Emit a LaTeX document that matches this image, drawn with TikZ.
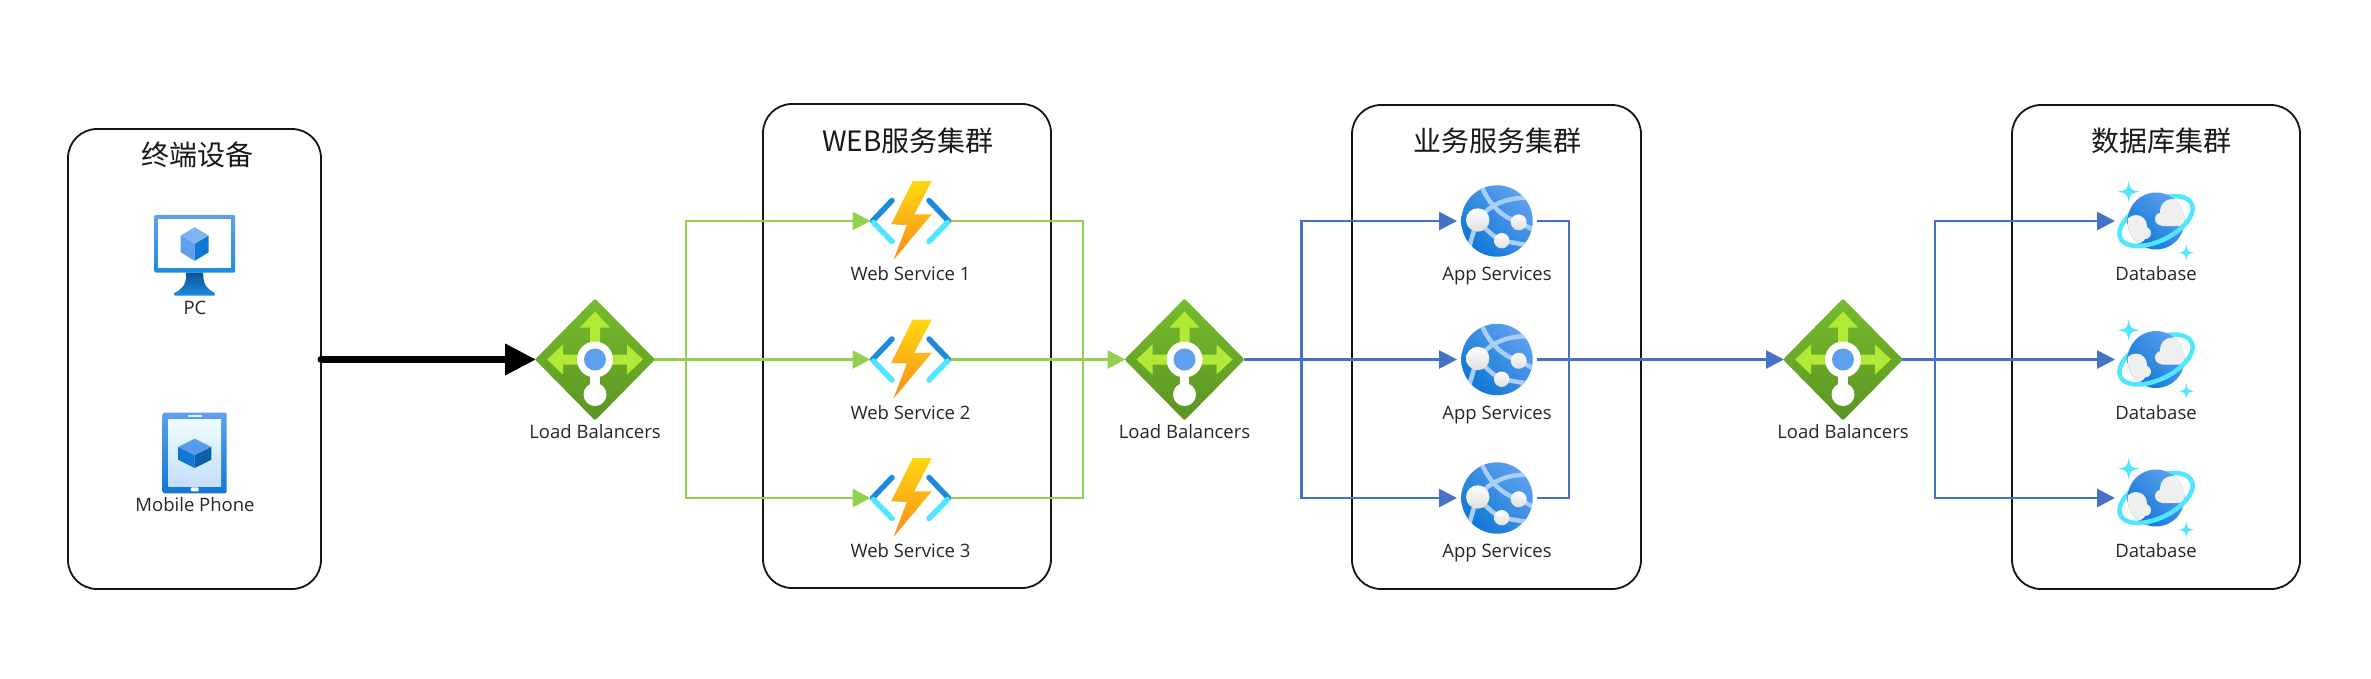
\documentclass[tikz,border=0pt]{standalone}
\usepackage{fontspec}
\setmainfont{Open Sans}
\newfontfamily\cjk{Noto Sans CJK SC}
\usetikzlibrary{positioning,arrows.meta}
\definecolor{flowgreen}{HTML}{92D050}
\definecolor{flowblue}{HTML}{4472C4}
\definecolor{lbtop}{HTML}{76BC2D}
\definecolor{lbbottom}{HTML}{5B9422}
\definecolor{lbarrow}{HTML}{B0EA37}
\definecolor{azlight}{HTML}{5EA0EF}
\definecolor{azdark}{HTML}{0F78D4}
\definecolor{azmid}{HTML}{1B8BDF}
\definecolor{azcyan}{HTML}{50E6FF}
\definecolor{azband}{HTML}{A9CFF6}
\definecolor{azcloud}{HTML}{EFEFEF}
\definecolor{boltup}{HTML}{FFD70F}
\definecolor{boltdown}{HTML}{F78D1E}
\tikzset{
  x=1pt,y=-1pt,
  groupbox/.style={draw=black!92,line width=1.8pt,rounded corners=29pt,inner sep=0pt,outer sep=0pt},
  grouptitle/.style={font=\cjk\fontsize{28}{32}\selectfont,text=black!90,inner sep=0pt},
  iconnode/.style={minimum width=80pt,minimum height=80pt,inner sep=0pt,outer sep=0pt},
  lbnode/.style={minimum width=118pt,minimum height=120pt,inner sep=0pt,outer sep=0pt},
  iconlabel/.style={font=\fontsize{18.5}{20}\selectfont,text=black!85,inner sep=0pt,text height=13pt,text depth=4pt},
  greenline/.style={draw=flowgreen,line width=2.8pt},
  greenarrow/.style={greenline,-{Triangle[length=18pt,width=18pt]}},
  blueline/.style={draw=flowblue,line width=2.8pt},
  bluearrow/.style={blueline,-{Triangle[length=18pt,width=18pt]}},
  blackarrow/.style={draw=black,line width=7pt,line cap=round,-{Triangle[length=31pt,width=30pt]}},
  lbicon/.pic={
    \shade[top color=lbtop,bottom color=lbbottom,rounded corners=2pt] (0,-61) -- (60,0) -- (0,61) -- (-60,0) -- cycle;
    \fill[lbarrow] (0,-48) -- (15,-32) -- (5,-32) -- (5,-5) -- (32,-5) -- (32,-15) -- (48,0) -- (32,15) -- (32,5) -- (-32,5) -- (-32,15) -- (-48,0) -- (-32,-15) -- (-32,-5) -- (-5,-5) -- (-5,-32) -- (-15,-32) -- cycle;
    \fill[white] (-4.8,10) rectangle (4.8,30);
    \fill[white] (0,0) circle (18pt);
    \fill[white] (0,35) circle (11.5pt);
    \fill[azlight] (0,0) circle (11pt);
  },
  webicon/.pic={
    \draw[azmid,line width=5.5pt,line cap=round] (-38,0) -- (-18.5,-20.5);
    \draw[azcyan,line width=5.5pt,line cap=round] (-37,1.5) -- (-18.5,20.5);
    \draw[azmid,line width=5.5pt,line cap=round] (38,0) -- (18.5,-20.5);
    \draw[azcyan,line width=5.5pt,line cap=round] (37,1.5) -- (18.5,20.5);
    \shade[top color=boltup,bottom color=boltdown] (2.3,-40) -- (21.3,-40) -- (3.7,-6.7) -- (21.3,-6.7) -- (-17,39) -- (-3.7,4) -- (-19.3,3.3) -- cycle;
  },
  appicon/.pic={
    \begin{scope}
      \clip (0,0) circle (35.7pt);
      \shade[left color=azlight,right color=azdark,shading angle=-45] (-36,-36) rectangle (36,36);
      \draw[azband,line width=4.5pt] (-16,-36) .. controls (-8,-16) and (5,-4) .. (21.7,1.3) -- (37,9);
      \draw[azband,line width=4.5pt] (-19,-1) .. controls (-8,-16) and (10,-25) .. (37,-23);
      \draw[azband,line width=4.5pt] (-22,6) -- (-29,30);
      \draw[azband,line width=4.5pt] (-19,-1) .. controls (-10,10) and (-3,16) .. (4.7,19.7) -- (36,25);
    \end{scope}
    \shade[top color=white,bottom color=azcloud!85!gray] (-19.3,-1) circle (11.7pt);
    \shade[top color=white,bottom color=azcloud!85!gray] (21.7,1.3) circle (8pt);
    \shade[top color=white,bottom color=azcloud!85!gray] (4.7,19.7) circle (7.7pt);
  },
  sparkle/.pic={
    \fill[azcyan] (0,-10) .. controls (1.5,-1.5) .. (10,0) .. controls (1.5,1.5) .. (0,10) .. controls (-1.5,1.5) .. (-10,0) .. controls (-1.5,-1.5) .. cycle;
  },
  dbicon/.pic={
    \draw[azcyan,line width=4.5pt] plot[domain=180:360,samples=40] ({39.5*cos(\x)*cos(26)+20*sin(\x)*sin(26)},{-39.5*cos(\x)*sin(26)+20*sin(\x)*cos(26)});
    \begin{scope}
      \clip (0,0) circle (28.5pt);
      \shade[left color=azlight,right color=azdark,shading angle=-45] (-29,-29) rectangle (29,29);
      \fill[azcloud] (16,-10) circle (12pt) (5.5,-2) circle (6.5pt) (16,-10) rectangle (30,5) (5.5,-2) rectangle (30,5);
      \fill[azcloud] (-20,5) circle (11pt) (-11,12) circle (6pt) (-20,12) circle (11pt);
    \end{scope}
    \draw[azcyan,line width=4.5pt] plot[domain=0:180,samples=40] ({39.5*cos(\x)*cos(26)+20*sin(\x)*sin(26)},{-39.5*cos(\x)*sin(26)+20*sin(\x)*cos(26)});
    \pic[scale=1.1] at (-27.3,-29.3) {sparkle};
    \pic[scale=.8] at (30.3,31.7) {sparkle};
  },
  pcicon/.pic={
    \shade[top color=azlight,bottom color=azmid,rounded corners=2pt] (-40.5,-29) rectangle (40.5,28.7);
    \fill[white] (-36.7,-25) rectangle (36.7,24);
    \shade[top color=azdark!70!black,bottom color=azmid] (-8.5,28.7) .. controls (-8,42) and (-14,46) .. (-20,49) -- (-20,51.7) -- (20,51.7) -- (20,49) .. controls (14,46) and (8,42) .. (8.5,28.7) -- cycle;
    \fill[azlight!80!white] (0,-16.7) -- (14,-8.3) -- (0,0) -- (-14,-8.3) -- cycle;
    \fill[azlight] (-14,-8.3) -- (0,0) -- (0,17) -- (-14,8.3) -- cycle;
    \fill[azdark] (14,-8.3) -- (0,0) -- (0,17) -- (14,8.3) -- cycle;
  },
  mobileicon/.pic={
    \shade[top color=azlight,bottom color=azdark,rounded corners=2pt] (-32,-40.3) rectangle (32,40.3);
    \shade[top color=azcyan!10!white,bottom color=azlight!35!white] (-26.3,-34) rectangle (26.3,33);
    \fill[white!85!azlight] (-7,-37.7) rectangle (7,-36);
    \fill[white,rounded corners=1pt] (-4,34.3) rectangle (4,38.3);
    \fill[azlight!90!azdark] (0,-14.3) -- (16.7,-6) -- (0,2.3) -- (-16.7,-6) -- cycle;
    \fill[azdark] (-16.7,-6) -- (0,2.3) -- (0,15) -- (-16.7,6.7) -- cycle;
    \fill[azdark!80!black] (16.7,-6) -- (0,2.3) -- (0,15) -- (16.7,6.7) -- cycle;
  }
}
\begin{document}
\begin{tikzpicture}

\useasboundingbox (0,0) rectangle (2371,678);

\node[groupbox,minimum width=253pt,minimum height=460pt] (endbox) at (194.5,359) {};
\node[groupbox,minimum width=288pt,minimum height=484pt] (webbox) at (907,346) {};
\node[groupbox,minimum width=289pt,minimum height=484pt] (appbox) at (1496.5,347) {};
\node[groupbox,minimum width=288pt,minimum height=484pt] (dbbox) at (2156,347) {};

\node[grouptitle] (endtitle) at (197,154.5) {终端设备};
\node[grouptitle] (webtitle) at (908,141) {WEB服务集群};
\node[grouptitle] (apptitle) at (1497,141) {业务服务集群};
\node[grouptitle] (dbtitle) at (2161,141) {数据库集群};

\node[iconnode,minimum height=82pt] (pc) at (195,255) {};
\pic at (194.7,243.9) {pcicon};
\node[iconlabel,below=5.5pt of pc] (pclabel) {PC};
\node[iconnode,minimum height=81pt] (mobile) at (195,453) {};
\pic at (194.7,453) {mobileicon};
\node[iconlabel,below=5pt of mobile] (mobilelabel) {Mobile Phone};

\node[lbnode] (lb1) at (595,359.5) {};
\node[lbnode] (lb2) at (1184.5,359.5) {};
\node[lbnode] (lb3) at (1843,359.5) {};
\foreach \n in {1,2,3}{
  \pic at (lb\n) {lbicon};
  \node[iconlabel,below=6pt of lb\n] (lblabel\n) {Load Balancers};
}

\foreach \y/\n in {221/1,359.5/2,498/3}{
  \node[iconnode] (web\n) at (910.5,\y) {};
  \pic at (web\n) {webicon};
  \node[iconlabel,below=6.5pt of web\n] (weblabel\n) {Web Service \n};
  \node[iconnode] (app\n) at (1497,\y) {};
  \pic at (app\n) {appicon};
  \node[iconlabel,below=6.5pt of app\n] (applabel\n) {App Services};
  \node[iconnode,minimum width=82pt] (db\n) at (2156,\y) {};
  \pic at (db\n) {dbicon};
  \node[iconlabel,below=6.5pt of db\n] (dblabel\n) {Database};
}

\coordinate (webfork) at (686,359.5);
\coordinate (webjoin) at (1083,359.5);
\coordinate (appfork) at (1301.5,359.5);
\coordinate (appjoin) at (1569,359.5);
\coordinate (dbfork) at (1935,359.5);

\draw[blackarrow] (endbox.east |- lb1.west) -- (lb1.west);

\draw[greenarrow] (lb1.east) -- (web2.west);
\draw[greenarrow] (webfork) |- (web1.west);
\draw[greenarrow] (webfork) |- (web3.west);
\draw[greenarrow] (web2.east) -- (lb2.west);
\draw[greenline] (web1.east) -| (webjoin);
\draw[greenline] (web3.east) -| (webjoin);

\draw[bluearrow] (lb2.east) -- (app2.west);
\draw[bluearrow] (appfork) |- (app1.west);
\draw[bluearrow] (appfork) |- (app3.west);
\draw[bluearrow] (app2.east) -- (lb3.west);
\draw[blueline] (app1.east) -| (appjoin);
\draw[blueline] (app3.east) -| (appjoin);

\draw[bluearrow] (lb3.east) -- (db2.west);
\draw[bluearrow] (dbfork) |- (db1.west);
\draw[bluearrow] (dbfork) |- (db3.west);

\end{tikzpicture}
\end{document}
